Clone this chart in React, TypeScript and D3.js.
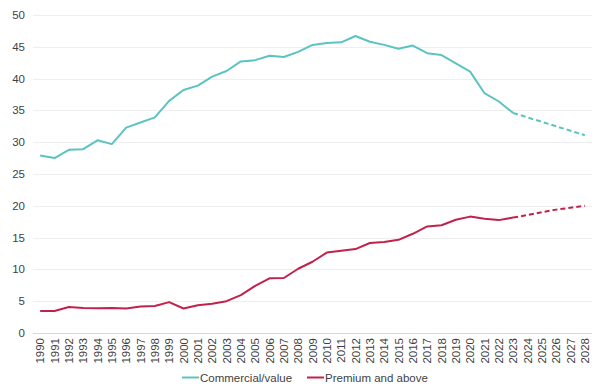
import React, { useRef, useEffect } from "react";
import * as d3 from "d3";

const years = d3.range(1990, 2029).map(String);

// Commercial/value, 1990-2028 (2024 onward is forecast)
const commercialValues = [
  27.9, 27.5, 28.8, 28.9, 30.3, 29.7, 32.3, 33.1, 33.9, 36.5,
  38.2, 38.9, 40.3, 41.2, 42.7, 42.9, 43.6, 43.4, 44.2, 45.3,
  45.6, 45.7, 46.7, 45.8, 45.3, 44.7, 45.2, 44.0, 43.7, 42.4,
  41.1, 37.7, 36.4, 34.6, 33.9, 33.2, 32.5, 31.8, 31.1,
];

// Premium and above, 1990-2028
const premiumValues = [
  3.45, 3.45, 4.1, 3.95, 3.9, 3.95, 3.85, 4.15, 4.25, 4.85,
  3.85, 4.35, 4.6, 5.0, 5.95, 7.4, 8.6, 8.65, 10.1, 11.2,
  12.65, 12.95, 13.2, 14.15, 14.3, 14.65, 15.6, 16.75, 16.95, 17.8,
  18.3, 17.95, 17.75, 18.15, 18.55, 19.0, 19.4, 19.7, 20.0,
];

const yTicks = [0, 5, 10, 15, 20, 25, 30, 35, 40, 45, 50];
const lastActualYear = "2023";

const seriesNames = ["Commercial/value", "Premium and above"];
const seriesColors = ["#5cc3c3", "#c1224c"];

const App: React.FC = () => {
  const ref = useRef<SVGSVGElement | null>(null);

  useEffect(() => {
    if (!ref.current) return;
    const svg = d3.select(ref.current);
    svg.selectAll("*").remove();

    const width = 599;
    const height = 389;
    const margin = { top: 15, right: 7, bottom: 56, left: 33 };
    const font = "Liberation Sans, Arial, sans-serif";
    const fontSize = 11.5;
    const textColor = "#3f3f3f";

    const x = d3
      .scaleBand()
      .domain(years)
      .range([margin.left, width - margin.right]);

    const y = d3
      .scaleLinear()
      .domain([0, 50])
      .range([height - margin.bottom, margin.top]);

    const cx = (yr: string) => x(yr)! + x.bandwidth() / 2;

    // Gridlines
    svg
      .append("g")
      .selectAll("line")
      .data(yTicks)
      .join("line")
      .attr("x1", margin.left)
      .attr("x2", width - margin.right)
      .attr("y1", (d) => Math.round(y(d)) + 0.5)
      .attr("y2", (d) => Math.round(y(d)) + 0.5)
      .attr("stroke", (d) => (d === 0 ? "#d9d9d9" : "#eeeeee"))
      .attr("stroke-width", 1);

    // Y labels
    svg
      .append("g")
      .selectAll("text")
      .data(yTicks)
      .join("text")
      .attr("x", 25)
      .attr("y", (d) => y(d))
      .attr("dy", "0.35em")
      .attr("text-anchor", "end")
      .attr("font-family", font)
      .attr("font-size", fontSize)
      .attr("fill", textColor)
      .text((d) => d);

    // X labels, rotated
    svg
      .append("g")
      .selectAll("text")
      .data(years)
      .join("text")
      .attr(
        "transform",
        (d) => `translate(${cx(d) + 4},${y(0) + 5}) rotate(-90)`
      )
      .attr("text-anchor", "end")
      .attr("font-family", font)
      .attr("font-size", fontSize)
      .attr("fill", textColor)
      .text((d) => d);

    const line = d3
      .line<[string, number]>()
      .x((d) => cx(d[0]))
      .y((d) => y(d[1]));

    const cut = years.indexOf(lastActualYear);
    [commercialValues, premiumValues].forEach((vals, i) => {
      const pts: [string, number][] = years.map((yr, j) => [yr, vals[j]]);
      svg
        .append("path")
        .attr("d", line(pts.slice(0, cut + 1)))
        .attr("fill", "none")
        .attr("stroke", seriesColors[i])
        .attr("stroke-width", 2)
        .attr("stroke-linejoin", "round");
      svg
        .append("path")
        .attr("d", line(pts.slice(cut)))
        .attr("fill", "none")
        .attr("stroke", seriesColors[i])
        .attr("stroke-width", 2)
        .attr("stroke-dasharray", "5,3");
    });

    // Legend
    const legendX = [182, 307];
    const legendY = 377.5;
    const legend = svg
      .append("g")
      .selectAll("g")
      .data(seriesNames)
      .join("g")
      .attr("transform", (_, i) => `translate(${legendX[i]},${legendY})`);
    legend
      .append("line")
      .attr("x1", 0)
      .attr("x2", 17)
      .attr("stroke", (_, i) => seriesColors[i])
      .attr("stroke-width", 2);
    legend
      .append("text")
      .attr("x", 18)
      .attr("dy", "0.35em")
      .attr("font-family", font)
      .attr("font-size", fontSize)
      .attr("fill", textColor)
      .text((d) => d);
  }, []);

  return (
    <svg
      ref={ref}
      width={599}
      height={389}
      style={{ position: "absolute", left: 0, top: 0, background: "#fff" }}
    />
  );
};

export default App;
